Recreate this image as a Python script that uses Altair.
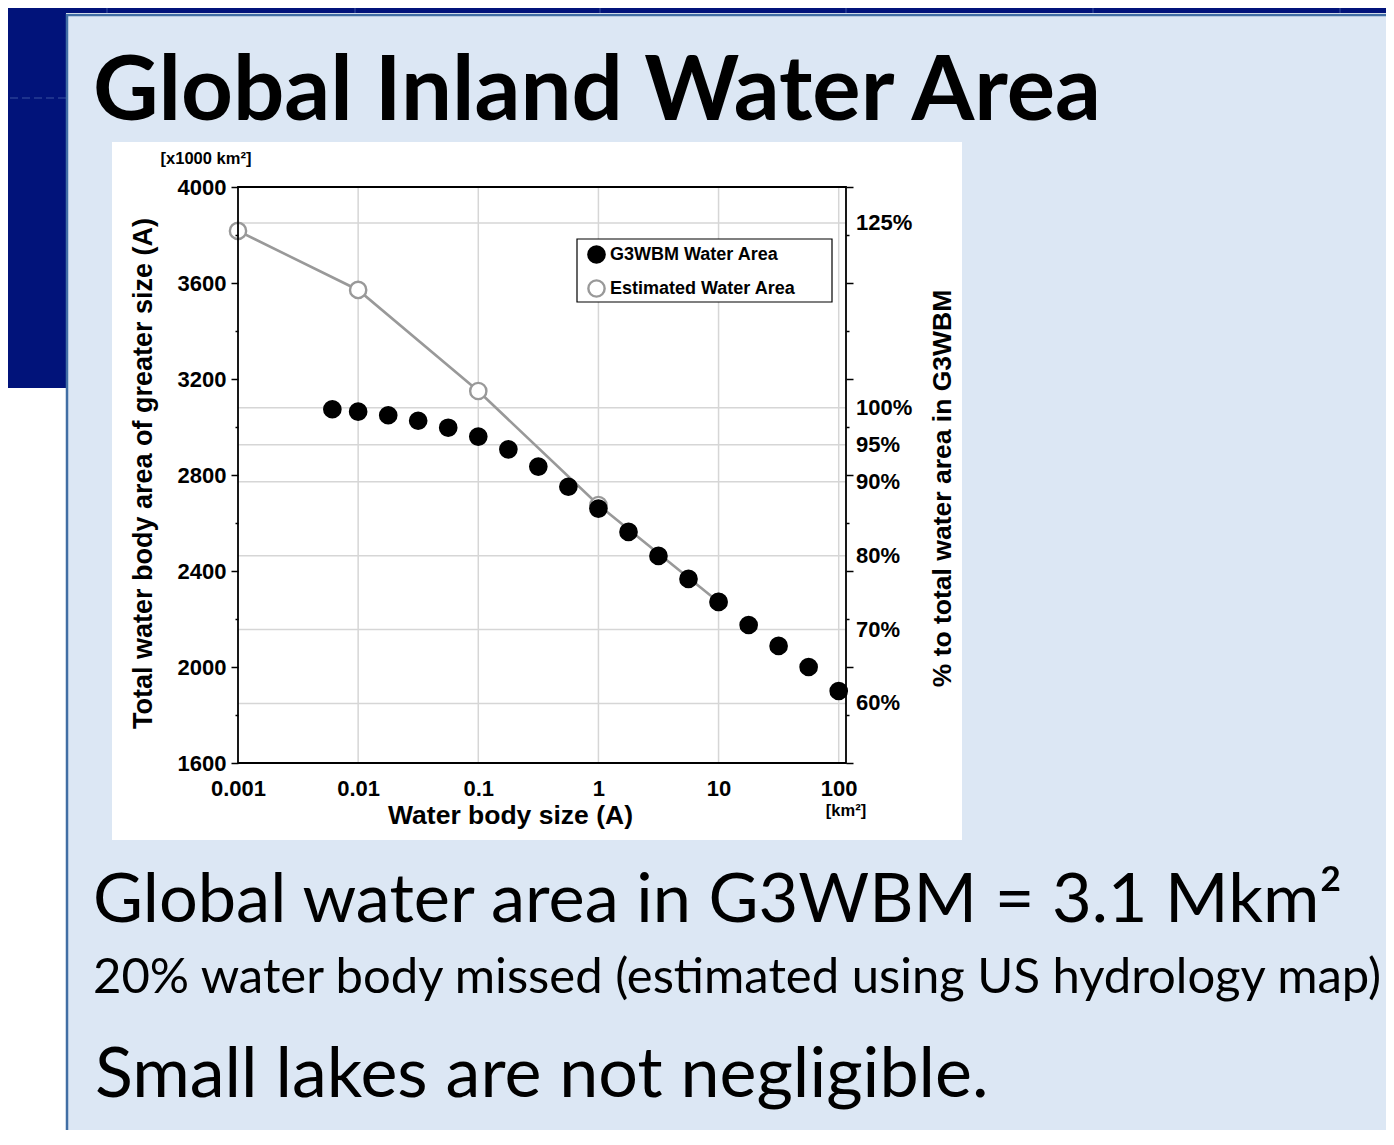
import altair as alt
import pandas as pd

# ---------------- data ----------------
g3_size = [0.0061, 0.01, 0.0178, 0.0316, 0.0562, 0.1, 0.178, 0.316, 0.562, 1,
           1.78, 3.16, 5.62, 10, 17.8, 31.6, 56.2, 100]
g3_area = [3074, 3064, 3049, 3026, 2997, 2960, 2907, 2835, 2751, 2660,
           2563, 2463, 2367, 2271, 2175, 2088, 2000, 1900]
est_size = [0.001, 0.01, 0.1, 1, 10]
est_area = [3817, 3571, 3150, 2675, 2271]
series_names = ["G3WBM Water Area", "Estimated Water Area"]
x_ticks = [0.001, 0.01, 0.1, 1, 10, 100]
x_grid = [0.01, 0.1, 1, 10, 100]
y_ticks = list(range(1600, 4001, 200))
pct_levels = [125, 100, 95, 90, 80, 70, 60]
pct_labels = ["125%", "100%", "95%", "90%", "80%", "70%", "60%"]
total_g3 = 3080  # 100 % level (x1000 km2)
x_domain = [0.001, 115]
y_domain = [1600, 4000]

title_text = "Global Inland Water Area"
line1 = "Global water area in G3WBM = 3.1 Mkm\u00b2"
line2 = "20% water body missed (estimated using US hydrology map)"
line3 = "Small lakes are not negligible."

# ---------------- tables ----------------
pts = pd.DataFrame({
    "size": est_size + g3_size,
    "area": est_area + g3_area,
    "series": [series_names[1]] * len(est_size) + [series_names[0]] * len(g3_size),
})
est = pd.DataFrame({"size": est_size, "area": est_area})
pct = pd.DataFrame({"v": [p * total_g3 / 100 for p in pct_levels], "label": pct_labels})
xg = pd.DataFrame({"x": x_grid})
frame = pd.DataFrame({"x0": [x_domain[0]], "x1": [x_domain[1]],
                      "y0": [y_domain[0]], "y1": [y_domain[1]]})
one = pd.DataFrame({"a": [0]})

# ---------------- styles ----------------
NAVY = "#01137a"
BOX = "#dce7f4"
BORDER = "#416ea4"
CF = "Liberation Sans"
SF = "Lato"
W, H = 608, 576
PT_SIZE = 265

xscale = alt.Scale(type="log", domain=x_domain, nice=False)
yscale = alt.Scale(domain=y_domain, nice=False, zero=False)
tick_cond = {"condition": {"test": "datum.value % 400 === 0", "value": 7}, "value": 3}

left_axis = alt.Axis(
    orient="left", values=y_ticks, format="d",
    labelExpr="datum.value % 400 === 0 ? datum.label : ''",
    tickSize=tick_cond, tickColor="black", tickWidth=1.5,
    domain=False, grid=False, labelOverlap=False,
    labelFont=CF, labelFontSize=22, labelFontWeight="bold", labelColor="black",
    labelPadding=5,
    title="Total water body area of greater size (A)",
    titleFont=CF, titleFontSize=27, titleFontWeight="bold", titleColor="black",
    titleX=-95, titleY=286, titleAngle=270, titleAlign="center", titleBaseline="middle",
    zindex=1,
)
right_axis = alt.Axis(
    orient="right", values=y_ticks, labels=False,
    tickSize=tick_cond, tickColor="black", tickWidth=1.5,
    domain=False, grid=False,
    title="% to total water area in G3WBM",
    titleFont=CF, titleFontSize=26.5, titleFontWeight="bold", titleColor="black",
    titleX=96, titleY=301, titleAngle=270, titleAlign="center", titleBaseline="middle",
    zindex=1,
)
bottom_axis = alt.Axis(
    orient="bottom", values=x_ticks, format="~g",
    ticks=False, tickSize=0, domain=False, grid=False,
    labelFlush=False, labelOverlap=False, labelPadding=15,
    labelFont=CF, labelFontSize=22, labelFontWeight="bold", labelColor="black",
    title="Water body size (A)",
    titleFont=CF, titleFontSize=26.5, titleFontWeight="bold", titleColor="black",
    titleX=272, titleY=52, titleAlign="center", titleBaseline="middle",
    zindex=1,
)


def rect(x, x2, y, y2, **kw):
    return alt.Chart(one).mark_rect(**kw).encode(
        x=alt.value(x), x2=alt.value(x2), y=alt.value(y), y2=alt.value(y2))


def label(text, x, y, **kw):
    return alt.Chart(one).mark_text(text=text, **kw).encode(x=alt.value(x), y=alt.value(y))


def seg(x, x2, y, y2, **kw):
    return alt.Chart(one).mark_rule(**kw).encode(
        x=alt.value(x), x2=alt.value(x2), y=alt.value(y), y2=alt.value(y2))


# slide background
navy_top = rect(-240, 1200, -190, -174, color=NAVY)
navy_left = rect(-240, -172, -190, 201, color=NAVY)
faint = [seg(px, px, -190, -174, color="#3b52a0", strokeWidth=1) for px in [-131, 117, 362, 608, 855, 1102]]
faint_h = seg(-240, -172, -89, -89, color="#3b52a0", strokeWidth=1, strokeDash=[8, 4])
slide_box = rect(-171, 1250, -172, 955, fill=BOX, stroke=BORDER, strokeWidth=2.5)
panel = rect(-126, 724, -45, 653, color="white")

# grid lines
hgrid = alt.Chart(pct).mark_rule(color="#d6d6d6", strokeWidth=1.5).encode(
    y=alt.Y("v:Q", scale=yscale, axis=left_axis))
vgrid = alt.Chart(xg).mark_rule(color="#d6d6d6", strokeWidth=1.5).encode(
    x=alt.X("x:Q", scale=xscale, axis=bottom_axis))

# plot frame
frame_rect = alt.Chart(frame).mark_rect(fillOpacity=0, stroke="black", strokeWidth=1.8).encode(
    x=alt.X("x0:Q", scale=xscale, axis=bottom_axis), x2="x1:Q",
    y=alt.Y("y0:Q", scale=yscale, axis=None), y2="y1:Q")

# legend box
legend_box = rect(339, 594, 52, 115, fill="white", stroke="black", strokeWidth=1.2)

# estimated line
line = alt.Chart(est).mark_line(color="#999999", strokeWidth=2.6).encode(
    x=alt.X("size:Q", scale=xscale, axis=bottom_axis),
    y=alt.Y("area:Q", scale=yscale, axis=None))

leg = alt.Legend(orient="none", legendX=349, legendY=58, title=None,
                 labelFont=CF, labelFontSize=18, labelFontWeight="bold", labelColor="black",
                 labelLimit=400, symbolSize=PT_SIZE, symbolStrokeWidth=2.4, symbolType="circle",
                 rowPadding=7, labelOffset=4, padding=0)
points = alt.Chart(pts).mark_circle(opacity=1, strokeWidth=2.4, size=PT_SIZE).encode(
    x=alt.X("size:Q", scale=xscale, axis=bottom_axis),
    y=alt.Y("area:Q", scale=yscale, axis=None),
    fill=alt.Fill("series:N", scale=alt.Scale(domain=series_names, range=["black", "white"]), legend=leg),
    stroke=alt.Stroke("series:N", scale=alt.Scale(domain=series_names, range=["black", "#999999"]), legend=leg),
)

# right-hand percentage labels
pct_text = alt.Chart(pct).mark_text(align="left", baseline="middle", font=CF, fontSize=22,
                                    fontWeight="bold", color="black").encode(
    x=alt.value(618),
    y=alt.Y("v:Q", scale=yscale, axis=right_axis),
    text="label:N")

unit_y = label("[x1000 km\u00b2]", -32, -28, font=CF, fontSize=16.5, fontWeight="bold",
               align="center", baseline="middle", color="black")
unit_x = label("[km\u00b2]", 608, 624, font=CF, fontSize=16.5, fontWeight="bold",
               align="center", baseline="middle", color="black")

title = label(title_text, -145, -67, font=SF, fontSize=90.5, fontWeight="bold",
              align="left", baseline="alphabetic", color="black")
t1 = label(line1, -145, 735, font=SF, fontSize=68.5, align="left", baseline="alphabetic", color="black")
t2 = label(line2, -145, 806, font=SF, fontSize=49, align="left", baseline="alphabetic", color="black")
t3 = label(line3, -143, 910, font=SF, fontSize=70, align="left", baseline="alphabetic", color="black")

chart = alt.layer(
    navy_top, navy_left, *faint, faint_h, slide_box, panel,
    hgrid, vgrid, legend_box, line, points, frame_rect, pct_text,
    unit_y, unit_x, title, t1, t2, t3,
).resolve_axis(y="independent").properties(
    width=W, height=H,
    padding={"left": 230, "top": 179, "right": 540, "bottom": 367},
    autosize="none",
    background="white",
).configure_view(stroke=None)

chart.save("out.html", embed_options={"renderer": "svg", "actions": False})
